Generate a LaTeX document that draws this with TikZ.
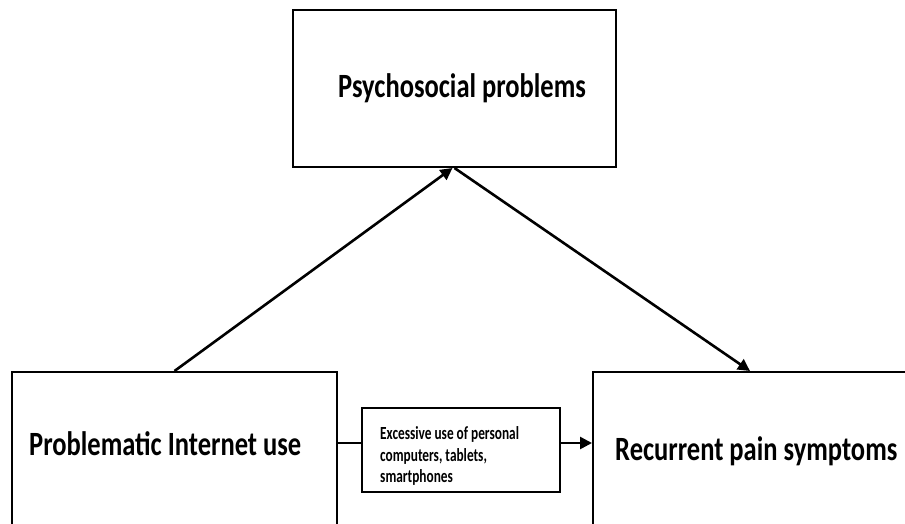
\documentclass[tikz,border=0pt]{standalone}
\usepackage{fontspec}
\setmainfont{Carlito}
\newfontfamily\labfont[FakeStretch=0.78]{Carlito}
\newfontfamily\midfont[FakeStretch=0.72]{Carlito}
\usetikzlibrary{arrows.meta,calc}
\begin{document}
\begin{tikzpicture}[x=1pt,y=-1pt,
  box/.style={draw=black, line width=2pt, rectangle, inner sep=0pt},
  conn/.style={line width=2.6pt, -{Triangle[length=12pt,width=12pt]}},
  plain/.style={line width=2.6pt},
  big/.style={font=\labfont\bfseries\fontsize{34}{40}\selectfont, inner sep=0pt},
  small/.style={font=\midfont\bfseries\fontsize{18.5}{21.5}\selectfont, inner sep=0pt, align=left}]
\useasboundingbox (0,0) rectangle (905,523);
\clip (0,0) rectangle (905,523);
\fill[white] (0,0) rectangle (905,523);
% boxes
\node[box, minimum width=323pt, minimum height=157pt] (psy) at (454.5,88.5) {};
\node[box, minimum width=325pt, minimum height=156pt] (piu) at (174.5,450) {};
\node[box, minimum width=324pt, minimum height=156pt] (rps) at (755,450) {};
\node[box, line width=1.6pt, minimum width=198pt, minimum height=84pt] (mid) at (461,450) {};
% labels
\node[big, anchor=base west] (tpsy) at (338,97) {Psychosocial problems};
\node[big, anchor=base west] (tpiu) at (29,455) {Problematic Internet use};
\node[big, anchor=base west] (trps) at (615,460) {Recurrent pain symptoms};
\node[small, anchor=west] (tmid) at (380,456) {Excessive use of personal\\computers, tablets,\\smartphones};
% connectors
\draw[conn] (piu.north) -- ([xshift=-2pt]psy.south);
\draw[conn] (psy.south) -- ([xshift=-5pt]rps.north);
\draw[plain] ([yshift=7pt]piu.east) -- ([yshift=7pt]mid.west);
\draw[conn] ([yshift=7pt]mid.east) -- ([yshift=7pt]rps.west);
\end{tikzpicture}
\end{document}
